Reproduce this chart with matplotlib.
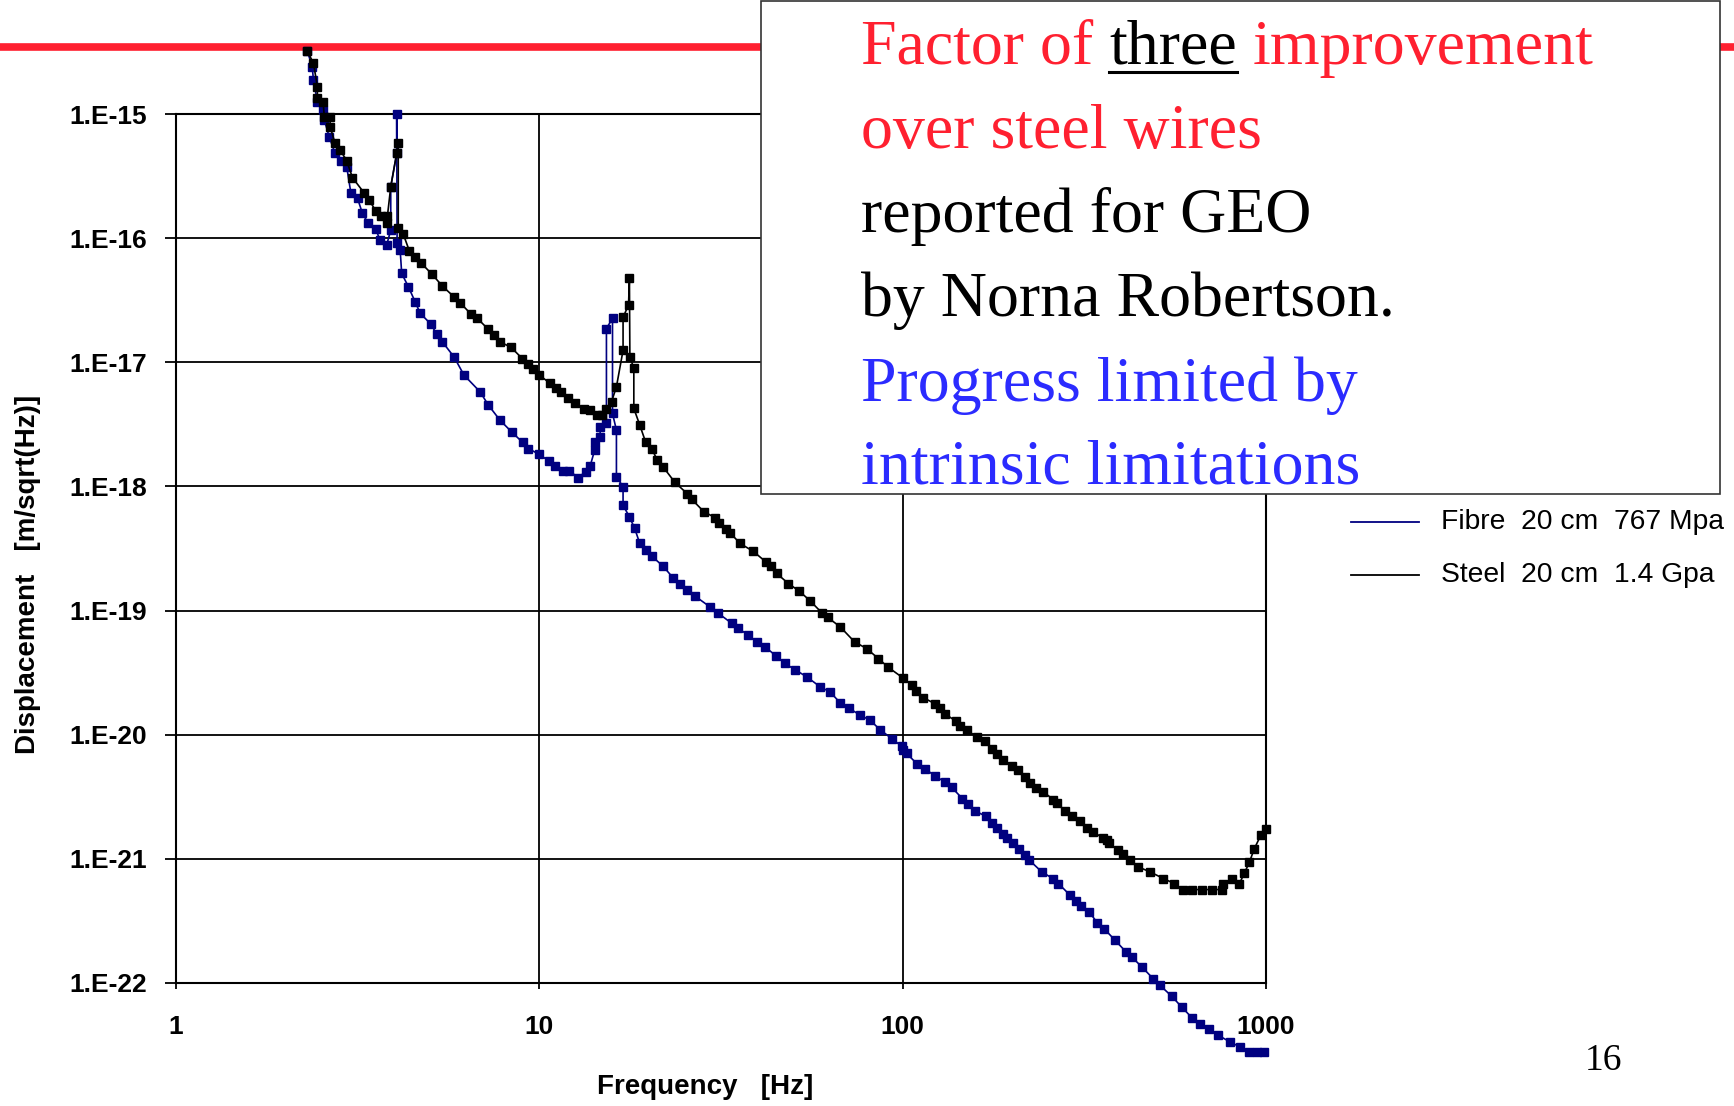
import matplotlib
matplotlib.use("Agg")
import matplotlib.pyplot as plt
from matplotlib.lines import Line2D
from matplotlib.patches import Rectangle
from matplotlib.ticker import NullLocator

# ---- measured suspension thermal-noise displacement spectra ----
fibre_freq = [2.30, 2.37, 2.39, 2.45, 2.54, 2.56, 2.64, 2.74, 2.85, 2.95,
              3.03, 3.16, 3.26, 3.38, 3.55, 3.64, 3.80, 3.90, 3.90, 4.05,
              4.05, 4.06, 4.14, 4.18, 4.36, 4.55, 4.70, 5.03, 5.22, 5.41,
              5.83, 6.20, 6.87, 7.24, 7.79, 8.39, 9.0, 9.33, 10.0, 10.6,
              11.05, 11.6, 12.1, 12.8, 13.4, 13.8, 14.2, 14.2, 14.7, 14.7,
              15.3, 15.3, 15.9, 15.9, 16.3, 16.3, 17.0, 17.0, 17.7, 18.3,
              18.9, 19.7, 20.4, 21.9, 23.4, 24.4, 25.5, 26.8, 29.5, 31.1,
              33.9, 35.3, 37.6, 39.7, 41.8, 44.8, 47.4, 50.5, 54.5, 59.3,
              63.1, 67.3, 71.3, 76.3, 81.3, 86.6, 93.3, 99.4, 100.5, 102.6,
              109.3, 115.2, 122.8, 130.8, 136.5, 146, 151.6, 158.3, 169.6, 175.8,
              181.6, 189.4, 194, 201.6, 209.5, 217, 223.2, 241.5, 260, 268.3,
              289, 300, 309, 326.3, 343.5, 358.4, 384.2, 412, 427.2, 455,
              489.8, 511, 550.5, 586, 625, 658.6, 698, 739, 796.6, 848.7,
              900, 944, 988]
fibre_disp = [3.2e-15, 2.4e-15, 1.88e-15, 1.26e-15, 1.08e-15, 8.95e-16, 6.56e-16, 4.82e-16, 4.18e-16, 3.76e-16,
              2.30e-16, 2.09e-16, 1.58e-16, 1.32e-16, 1.18e-16, 9.66e-17, 8.8e-17, 1.16e-16, 2.6e-16, 4.82e-16,
              1.0e-15, 9.1e-17, 8.0e-17, 5.2e-17, 4.06e-17, 3.08e-17, 2.48e-17, 2.03e-17, 1.68e-17, 1.46e-17,
              1.10e-17, 7.9e-18, 5.78e-18, 4.52e-18, 3.42e-18, 2.75e-18, 2.26e-18, 2.02e-18, 1.81e-18, 1.61e-18,
              1.46e-18, 1.33e-18, 1.33e-18, 1.18e-18, 1.31e-18, 1.46e-18, 1.96e-18, 2.29e-18, 2.51e-18, 3.02e-18,
              3.22e-18, 1.87e-17, 2.26e-17, 3.87e-18, 2.84e-18, 1.20e-18, 9.94e-19, 7.06e-19, 5.68e-19, 4.59e-19,
              3.47e-19, 3.07e-19, 2.74e-19, 2.28e-19, 1.82e-19, 1.63e-19, 1.46e-19, 1.31e-19, 1.07e-19, 9.5e-20,
              7.87e-20, 7.18e-20, 6.34e-20, 5.6e-20, 5.1e-20, 4.32e-20, 3.75e-20, 3.35e-20, 2.92e-20, 2.43e-20,
              2.21e-20, 1.81e-20, 1.63e-20, 1.44e-20, 1.31e-20, 1.10e-20, 9.3e-21, 8.07e-21, 7.5e-21, 7.06e-21,
              5.86e-21, 5.34e-21, 4.63e-21, 4.17e-21, 3.76e-21, 3.06e-21, 2.75e-21, 2.43e-21, 2.2e-21, 1.95e-21,
              1.77e-21, 1.6e-21, 1.46e-21, 1.33e-21, 1.19e-21, 1.07e-21, 9.75e-22, 7.85e-22, 6.9e-22, 6.33e-22,
              5.09e-22, 4.58e-22, 4.15e-22, 3.73e-22, 3.05e-22, 2.74e-22, 2.21e-22, 1.78e-22, 1.62e-22, 1.35e-22,
              1.08e-22, 9.57e-23, 7.81e-23, 6.41e-23, 5.26e-23, 4.71e-23, 4.29e-23, 3.79e-23, 3.35e-23, 3.05e-23,
              2.78e-23, 2.78e-23, 2.78e-23]

steel_freq = [2.30, 2.39, 2.45, 2.45, 2.54, 2.56, 2.65, 2.66, 2.74, 2.83,
              2.95, 3.06, 3.30, 3.40, 3.55, 3.66, 3.80, 3.80, 3.90, 4.05,
              4.09, 4.09, 4.22, 4.39, 4.55, 4.72, 5.06, 5.41, 5.82, 6.05,
              6.49, 6.75, 7.24, 7.50, 7.79, 8.36, 8.98, 9.29, 9.63, 10.0,
              10.7, 11.1, 11.5, 12.0, 12.5, 13.3, 13.8, 14.4, 14.9, 15.3,
              15.8, 16.3, 17.0, 17.0, 17.6, 17.7, 17.75, 18.2, 18.2, 18.9,
              19.6, 20.4, 21.1, 21.9, 23.6, 25.5, 26.3, 28.4, 30.5, 31.3,
              32.6, 33.5, 35.7, 38.8, 42.0, 43.4, 45.0, 48.5, 52.0, 55.6,
              59.9, 62.2, 67.3, 73.7, 79.6, 85.7, 91.4, 100.5, 106, 108.9,
              114, 122.5, 126.7, 130.8, 140.5, 143.9, 150.2, 160, 168.6, 175.8,
              181.6, 189.4, 199.6, 208, 217, 224, 232.8, 243.9, 260, 265.5,
              280, 292, 307.9, 322.5, 335, 356.8, 364.5, 370.7, 392.5, 405,
              423.5, 445.6, 479.9, 522, 559, 590, 625, 665, 709, 755,
              763, 805, 845, 872.6, 900, 929, 967.6, 1000]
steel_disp = [3.2e-15, 2.56e-15, 1.66e-15, 1.34e-15, 1.26e-15, 9.4e-16, 9.5e-16, 7.8e-16, 5.8e-16, 5.13e-16,
              4.2e-16, 3.07e-16, 2.30e-16, 2.03e-16, 1.65e-16, 1.52e-16, 1.52e-16, 1.33e-16, 2.6e-16, 4.82e-16,
              5.8e-16, 1.2e-16, 1.08e-16, 7.87e-17, 7.08e-17, 6.33e-17, 5.14e-17, 4.11e-17, 3.37e-17, 3.02e-17,
              2.44e-17, 2.26e-17, 1.84e-17, 1.66e-17, 1.46e-17, 1.32e-17, 1.07e-17, 9.6e-18, 8.77e-18, 7.89e-18,
              6.76e-18, 6.23e-18, 5.79e-18, 5.17e-18, 4.66e-18, 4.17e-18, 4.12e-18, 3.76e-18, 3.76e-18, 4.2e-18,
              4.8e-18, 6.35e-18, 1.25e-17, 2.3e-17, 2.9e-17, 4.74e-17, 1.11e-17, 8.93e-18, 4.25e-18, 3.12e-18,
              2.29e-18, 2.02e-18, 1.63e-18, 1.44e-18, 1.08e-18, 8.77e-19, 7.85e-19, 6.24e-19, 5.6e-19, 5.09e-19,
              4.5e-19, 4.23e-19, 3.47e-19, 3.0e-19, 2.47e-19, 2.28e-19, 1.99e-19, 1.65e-19, 1.43e-19, 1.20e-19,
              9.6e-20, 8.8e-20, 7.4e-20, 5.6e-20, 4.94e-20, 4.11e-20, 3.48e-20, 2.85e-20, 2.51e-20, 2.26e-20,
              1.99e-20, 1.78e-20, 1.63e-20, 1.47e-20, 1.28e-20, 1.17e-20, 1.09e-20, 9.6e-21, 8.9e-21, 7.74e-21,
              7.05e-21, 6.3e-21, 5.57e-21, 5.17e-21, 4.57e-21, 4.09e-21, 3.73e-21, 3.46e-21, 3.0e-21, 2.82e-21,
              2.43e-21, 2.2e-21, 2.0e-21, 1.76e-21, 1.65e-21, 1.46e-21, 1.41e-21, 1.33e-21, 1.17e-21, 1.09e-21,
              9.75e-22, 8.6e-22, 7.85e-22, 6.94e-22, 6.33e-22, 5.66e-22, 5.66e-22, 5.66e-22, 5.66e-22, 5.66e-22,
              6.33e-22, 6.94e-22, 6.33e-22, 7.7e-22, 9.4e-22, 1.21e-21, 1.55e-21, 1.75e-21]

x_ticks = [1, 10, 100, 1000]
x_tick_labels = ["1", "10", "100", "1000"]
y_ticks = [1e-22, 1e-21, 1e-20, 1e-19, 1e-18, 1e-17, 1e-16, 1e-15]
y_tick_labels = ["1.E-22", "1.E-21", "1.E-20", "1.E-19", "1.E-18", "1.E-17", "1.E-16", "1.E-15"]
legend_labels = ["Fibre  20 cm  767 Mpa", "Steel  20 cm  1.4 Gpa"]

FIBRE_C = "#000080"
STEEL_C = "#000000"
RED = "#FF2030"
BLUE = "#2B2BFF"
SANS = "Liberation Sans"
SERIF = "Liberation Serif"

W, H = 1734, 1106
fig = plt.figure(figsize=(W / 100, H / 100), dpi=100)
fig.patch.set_facecolor("white")


def fx(px):
    return px / W


def fy(py):
    return 1 - py / H


ax = fig.add_axes([fx(176), fy(983), fx(1266) - fx(176), fy(114) - fy(983)])
ax.set_xscale("log")
ax.set_yscale("log")
ax.set_xlim(1, 1000)
ax.set_ylim(1e-22, 1e-15)

# slide title rule across the top
ax.add_line(Line2D([0, 1], [fy(47), fy(47)], transform=fig.transFigure,
                   color=RED, lw=5.5, clip_on=False, zorder=1))

ax.plot(fibre_freq, fibre_disp, color=FIBRE_C, lw=1.2, marker="s", ms=5.2,
        clip_on=False, zorder=3)
ax.plot(steel_freq, steel_disp, color=STEEL_C, lw=1.2, marker="s", ms=5.2,
        clip_on=False, zorder=4)

ax.grid(True, which="major", color="black", lw=1.3)
for sp in ax.spines.values():
    sp.set_linewidth(1.5)
ax.set_xticks(x_ticks, labels=x_tick_labels, fontsize=19, fontweight="bold", family=SANS)
ax.set_yticks(y_ticks, labels=y_tick_labels, fontsize=19, fontweight="bold", family=SANS)
ax.xaxis.set_minor_locator(NullLocator())
ax.yaxis.set_minor_locator(NullLocator())
ax.tick_params(axis="x", direction="out", length=4, width=1.3, pad=19)
ax.tick_params(axis="y", direction="out", length=8, width=1.3, pad=13)

fig.text(fx(28), fy(574), "Displacement   [m/sqrt(Hz)]", rotation=90,
         ha="center", va="center", fontsize=20, fontweight="bold", family=SANS)
fig.text(fx(705), fy(1087), "Frequency   [Hz]", ha="center", va="center",
         fontsize=20, fontweight="bold", family=SANS)

# legend to the right of the plot
for i, (lab, col) in enumerate(zip(legend_labels, [FIBRE_C, STEEL_C])):
    yy = fy(522 + 53 * i)
    fig.add_artist(Line2D([fx(1351), fx(1419)], [yy, yy], transform=fig.transFigure,
                          color=col, lw=1.3))
    fig.text(fx(1441), yy, lab, ha="left", va="center", fontsize=20.3, family=SANS)

# annotation box
fig.add_artist(Rectangle((fx(761), fy(494)), fx(1720) - fx(761), fy(1) - fy(494),
                         transform=fig.transFigure, facecolor="white",
                         edgecolor="#333333", lw=1.2, zorder=2))

BOX_SIZE = 46
renderer = fig.canvas.get_renderer()
space_px = 0.25 * BOX_SIZE * 100 / 72

t_a = fig.text(fx(861), fy(64), "Factor of", color=RED, fontsize=BOX_SIZE,
               family=SERIF, va="baseline", zorder=5)
bb = t_a.get_window_extent(renderer)
x_three = bb.x1 + space_px
t_b = fig.text(x_three / W, fy(64), "three", color="black", fontsize=BOX_SIZE,
               family=SERIF, va="baseline", zorder=5)
bb3 = t_b.get_window_extent(renderer)
fig.add_artist(Line2D([bb3.x0 / W, bb3.x1 / W], [fy(72), fy(72)],
                      transform=fig.transFigure, color="black", lw=2.2, zorder=5))
fig.text((bb3.x1 + space_px) / W, fy(64), "improvement", color=RED,
         fontsize=BOX_SIZE, family=SERIF, va="baseline", zorder=5)

box_lines = [("over steel wires", RED, 148),
             ("reported for GEO", "black", 232),
             ("by Norna Robertson.", "black", 316),
             ("Progress limited by", BLUE, 401),
             ("intrinsic limitations", BLUE, 484)]
for txt, col, base in box_lines:
    fig.text(fx(861), fy(base), txt, color=col, fontsize=BOX_SIZE, family=SERIF,
             va="baseline", zorder=5)

fig.text(fx(1603), fy(1070), "16", ha="center", va="baseline", fontsize=27,
         family=SERIF)

fig.savefig("out.png", dpi=100)
